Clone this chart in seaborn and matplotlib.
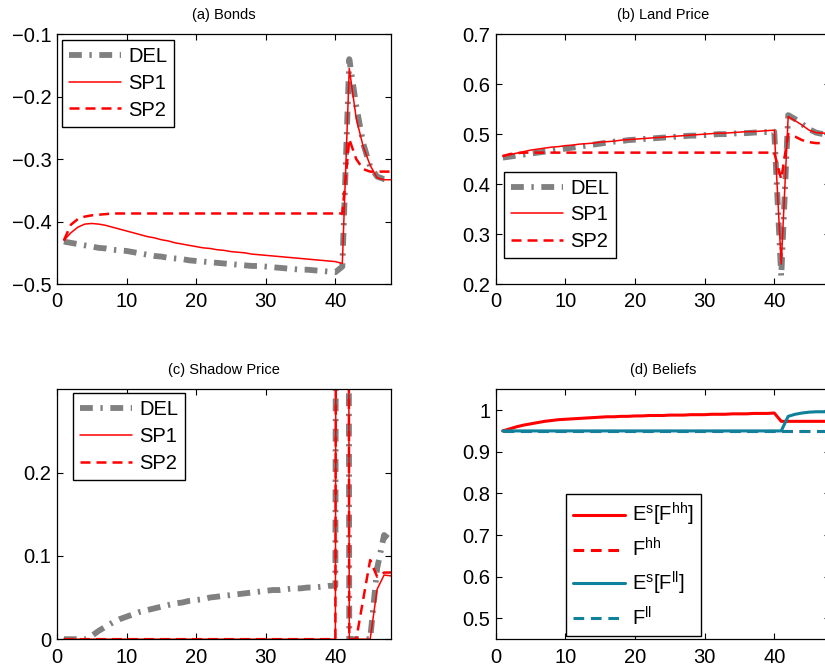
import numpy as np
import pandas as pd
import matplotlib
matplotlib.use("Agg")
import matplotlib.pyplot as plt
import seaborn as sns

# periods
t = list(range(1, 49))

# (a) Bonds
bonds_del = [-0.432, -0.434, -0.436, -0.438, -0.440, -0.442, -0.443, -0.445, -0.446, -0.447,
             -0.449, -0.451, -0.453, -0.455, -0.456, -0.458, -0.459, -0.460, -0.462, -0.463,
             -0.464, -0.465, -0.466, -0.467, -0.468, -0.469, -0.470, -0.471, -0.471, -0.472,
             -0.473, -0.474, -0.475, -0.476, -0.477, -0.477, -0.478, -0.479, -0.480, -0.481,
             -0.472, -0.140, -0.215, -0.275, -0.312, -0.328, -0.332, -0.333]
bonds_sp1 = [-0.430, -0.418, -0.409, -0.404, -0.403, -0.404, -0.406, -0.409, -0.412, -0.415,
             -0.418, -0.421, -0.424, -0.426, -0.429, -0.431, -0.434, -0.436, -0.438, -0.440,
             -0.442, -0.443, -0.445, -0.446, -0.448, -0.449, -0.450, -0.452, -0.453, -0.454,
             -0.455, -0.456, -0.457, -0.458, -0.459, -0.460, -0.461, -0.462, -0.463, -0.464,
             -0.467, -0.155, -0.235, -0.280, -0.310, -0.330, -0.333, -0.333]
bonds_sp2 = [-0.430, -0.405, -0.396, -0.392, -0.390, -0.389, -0.388, -0.387, -0.387, -0.387,
             -0.387, -0.387, -0.387, -0.387, -0.387, -0.387, -0.387, -0.387, -0.387, -0.387,
             -0.387, -0.387, -0.387, -0.387, -0.387, -0.387, -0.387, -0.387, -0.387, -0.387,
             -0.387, -0.387, -0.387, -0.387, -0.387, -0.387, -0.387, -0.387, -0.387, -0.387,
             -0.387, -0.268, -0.300, -0.316, -0.320, -0.320, -0.320, -0.320]

# (b) Land price
land_del = [0.453, 0.455, 0.457, 0.459, 0.461, 0.463, 0.465, 0.467, 0.469, 0.471,
            0.473, 0.475, 0.477, 0.479, 0.481, 0.483, 0.485, 0.486, 0.488, 0.489,
            0.490, 0.491, 0.492, 0.493, 0.494, 0.495, 0.496, 0.497, 0.497, 0.498,
            0.499, 0.500, 0.500, 0.501, 0.502, 0.502, 0.503, 0.504, 0.504, 0.505,
            0.215, 0.538, 0.530, 0.520, 0.510, 0.503, 0.500, 0.500]
land_sp1 = [0.456, 0.459, 0.462, 0.465, 0.468, 0.470, 0.472, 0.474, 0.475, 0.477,
            0.478, 0.480, 0.481, 0.482, 0.484, 0.485, 0.486, 0.488, 0.489, 0.490,
            0.491, 0.492, 0.493, 0.494, 0.495, 0.496, 0.497, 0.498, 0.499, 0.500,
            0.501, 0.502, 0.502, 0.503, 0.504, 0.505, 0.505, 0.506, 0.507, 0.508,
            0.240, 0.535, 0.527, 0.518, 0.508, 0.503, 0.502, 0.502]
land_sp2 = [0.456, 0.460, 0.462, 0.463, 0.463, 0.463, 0.463, 0.463, 0.463, 0.463,
            0.463, 0.463, 0.463, 0.463, 0.463, 0.463, 0.463, 0.463, 0.463, 0.463,
            0.463, 0.463, 0.463, 0.463, 0.463, 0.463, 0.463, 0.463, 0.463, 0.463,
            0.463, 0.463, 0.463, 0.463, 0.463, 0.463, 0.463, 0.463, 0.463, 0.463,
            0.410, 0.500, 0.495, 0.488, 0.484, 0.482, 0.482, 0.482]

# (c) Shadow price (period 41 is far off the top of the axis)
shadow_del = [0.0, 0.0, 0.0, 0.0, 0.004, 0.010, 0.015, 0.020, 0.024, 0.027,
              0.030, 0.033, 0.035, 0.037, 0.039, 0.041, 0.043, 0.044, 0.046, 0.047,
              0.048, 0.050, 0.051, 0.052, 0.053, 0.054, 0.055, 0.056, 0.057, 0.058,
              0.059, 0.059, 0.060, 0.061, 0.061, 0.062, 0.062, 0.063, 0.064, 0.064,
              5.0, 0.0, 0.0, 0.0, 0.0, 0.085, 0.125, 0.118]
shadow_sp1 = [0.0] * 40 + [5.0, 0.0, 0.0, 0.0, 0.0, 0.060, 0.077, 0.076]
shadow_sp2 = [0.0] * 40 + [5.0, 0.0, 0.0, 0.048, 0.095, 0.075, 0.080, 0.080]

# (d) Beliefs
es_fhh = [0.950, 0.955, 0.960, 0.964, 0.967, 0.970, 0.973, 0.975, 0.977, 0.978,
          0.979, 0.980, 0.981, 0.982, 0.983, 0.984, 0.984, 0.985, 0.985, 0.986,
          0.986, 0.987, 0.987, 0.987, 0.988, 0.988, 0.988, 0.989, 0.989, 0.989,
          0.990, 0.990, 0.990, 0.991, 0.991, 0.991, 0.992, 0.992, 0.992, 0.993,
          0.973, 0.973, 0.973, 0.973, 0.973, 0.973, 0.973, 0.973]
f_hh = [0.95] * 48
es_fll = [0.95] * 41 + [0.985, 0.990, 0.993, 0.995, 0.996, 0.996, 0.996]
f_ll = [0.95] * 48

sns.set_style("ticks")
plt.rcParams['font.family'] = ['Liberation Sans', 'DejaVu Sans']
plt.rcParams.update({
    'xtick.direction': 'in', 'ytick.direction': 'in',
    'xtick.top': True, 'ytick.right': True,
    'xtick.major.size': 4, 'ytick.major.size': 4,
    'xtick.labelsize': 14.5, 'ytick.labelsize': 14.5,
    'xtick.color': 'black', 'ytick.color': 'black',
    'xtick.labelcolor': 'black', 'ytick.labelcolor': 'black',
    'text.color': 'black', 'axes.labelcolor': 'black',
    'axes.linewidth': 0.9, 'axes.edgecolor': 'black',
    'mathtext.fontset': 'custom', 'mathtext.rm': 'Liberation Sans',
})

GRAY = '#808080'
RED = '#ff0000'
TEAL = '#10819a'
dashdot = (0, (2.2, 1.3, 0.4, 1.3))
dash = (0, (4, 2.4))

fig = plt.figure(figsize=(8.25, 6.7), dpi=100)
w, h = 0.405, 0.373
ax_a = fig.add_axes([0.069, 0.576, w, h])
ax_b = fig.add_axes([0.601, 0.576, w, h])
ax_c = fig.add_axes([0.069, 0.046, w, h])
ax_d = fig.add_axes([0.601, 0.046, w, h])


def three_lines(ax, d, s1, s2):
    sns.lineplot(x=t, y=d, ax=ax, color=GRAY, lw=4.2, linestyle=dashdot, label='DEL')
    sns.lineplot(x=t, y=s1, ax=ax, color=RED, lw=1.1, label='SP1')
    sns.lineplot(x=t, y=s2, ax=ax, color=RED, lw=1.8, linestyle=dash, label='SP2')


three_lines(ax_a, bonds_del, bonds_sp1, bonds_sp2)
ax_a.set_ylim(-0.5, -0.1)
ax_a.set_yticks([-0.5, -0.4, -0.3, -0.2, -0.1])
ax_a.set_yticklabels(['\u22120.5', '\u22120.4', '\u22120.3', '\u22120.2', '\u22120.1'])
ax_a.set_title('(a) Bonds', fontsize=10.5, pad=11)

three_lines(ax_b, land_del, land_sp1, land_sp2)
ax_b.set_ylim(0.2, 0.7)
ax_b.set_yticks([0.2, 0.3, 0.4, 0.5, 0.6, 0.7])
ax_b.set_title('(b) Land Price', fontsize=10.5, pad=11)

three_lines(ax_c, shadow_del, shadow_sp1, shadow_sp2)
ax_c.set_ylim(0, 0.3)
ax_c.set_yticks([0, 0.1, 0.2])
ax_c.set_yticklabels(['0', '0.1', '0.2'])
ax_c.set_title('(c) Shadow Price', fontsize=10.5, pad=11)

sns.lineplot(x=t, y=es_fhh, ax=ax_d, color=RED, lw=2.2, label=r'E$^{\mathregular{s}}$[F$^{\mathregular{hh}}$]')
sns.lineplot(x=t, y=f_hh, ax=ax_d, color=RED, lw=2.2, linestyle=(0, (3.5, 2.2)), label=r'F$^{\mathregular{hh}}$')
sns.lineplot(x=t, y=es_fll, ax=ax_d, color=TEAL, lw=2.2, label=r'E$^{\mathregular{s}}$[F$^{\mathregular{ll}}$]')
sns.lineplot(x=t, y=f_ll, ax=ax_d, color=TEAL, lw=2.2, linestyle=(0, (3.5, 2.2)), label=r'F$^{\mathregular{ll}}$')
ax_d.set_ylim(0.45, 1.05)
ax_d.set_yticks([0.5, 0.6, 0.7, 0.8, 0.9, 1.0])
ax_d.set_yticklabels(['0.5', '0.6', '0.7', '0.8', '0.9', '1'])
ax_d.set_title('(d) Beliefs', fontsize=10.5, pad=11)

for ax in [ax_a, ax_b, ax_c, ax_d]:
    ax.set_xlim(0, 48)
    ax.set_xticks([0, 10, 20, 30, 40])
    ax.set_xlabel('')
    ax.set_ylabel('')
    ax.tick_params(length=4, width=0.8)
    ax.tick_params(axis='x', pad=6)
    ax.tick_params(axis='y', pad=4)

leg_kw = dict(fontsize=14.5, fancybox=False, framealpha=1, edgecolor='black',
              borderaxespad=0, handlelength=2.6, handletextpad=0.35,
              borderpad=0.35, labelspacing=0.38)
ax_a.legend(loc='upper left', bbox_to_anchor=(0.015, 0.976), **leg_kw)
ax_b.legend(loc='lower left', bbox_to_anchor=(0.024, 0.104), **leg_kw)
ax_c.legend(loc='upper left', bbox_to_anchor=(0.048, 0.984), **leg_kw)
leg_d = dict(leg_kw)
leg_d.update(labelspacing=0.45, handlelength=2.6)
ax_d.legend(loc='lower left', bbox_to_anchor=(0.21, 0.012), **leg_d)
for ax in [ax_a, ax_b, ax_c, ax_d]:
    ax.get_legend().get_frame().set_linewidth(1.0)

fig.savefig('out.png', dpi=100)
